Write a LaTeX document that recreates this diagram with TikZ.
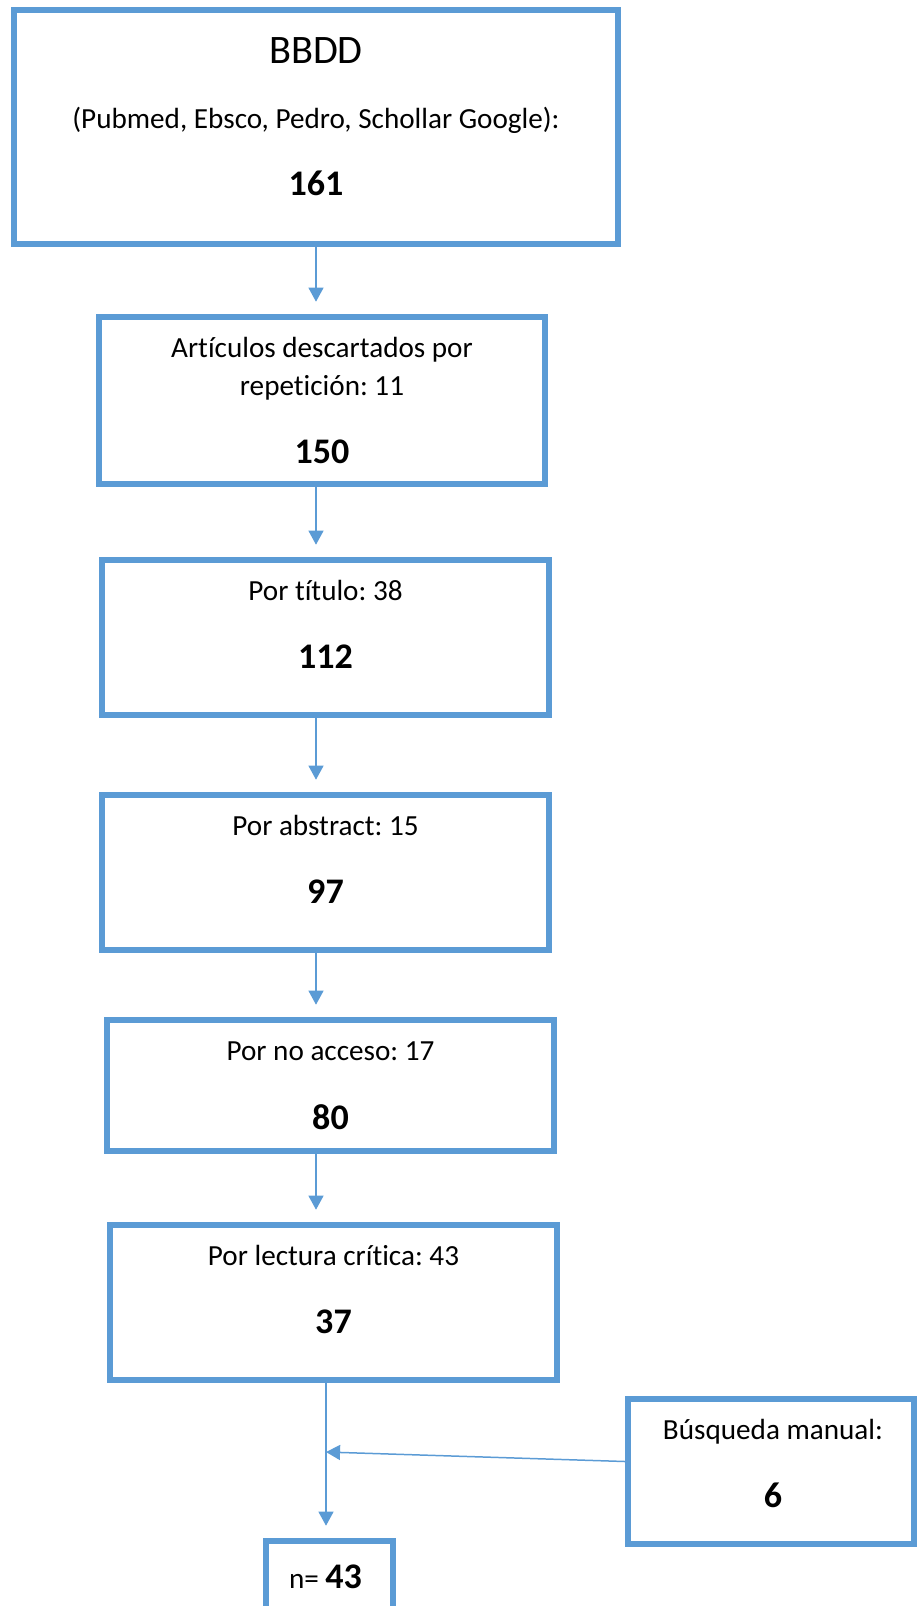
\documentclass[tikz,border=0pt]{standalone}
\usepackage{fontspec}
\setmainfont{Carlito}[Ligatures=NoCommon]
\usetikzlibrary{arrows.meta}

\definecolor{azul}{RGB}{91,155,213}
\frenchspacing

\begin{document}
\begin{tikzpicture}[
	x=0.02cm,
	y=-0.02cm,
	caja/.style 2 args={draw=azul, line width=3.4pt, minimum width=#1*0.02cm, minimum height=#2*0.02cm, inner sep=0pt},
	texto/.style={font=\fontsize{16.6}{20}\selectfont, anchor=base, inner sep=0pt},
	cifra/.style={font=\fontsize{20.5}{24}\selectfont\bfseries, anchor=base, inner sep=0pt},
	flecha/.style={draw=azul, line width=0.85pt, -{Triangle[length=8pt, width=8.5pt]}, shorten >=7pt}
]

\useasboundingbox (0,0) rectangle (917,1606);

% cajas
\node[caja={604}{234}] (b1) at (316,127) {};
\node[caja={446}{167}] (b2) at (322,400.5) {};
\node[caja={447}{155}] (b3) at (325.5,637.5) {};
\node[caja={447}{155}] (b4) at (325.5,872.5) {};
\node[caja={447}{131}] (b5) at (330.5,1085.5) {};
\node[caja={447}{155}] (b6) at (333.5,1302.5) {};
\node[caja={286}{145}] (bm) at (771,1471.5) {};
\node[caja={127}{79}] (fin) at (329.5,1580.5) {};

% textos
\node[texto, font=\fontsize{23}{27}\selectfont] (t1a) at (316,63) {BBDD};
\foreach \nombre/\x/\y/\linea in {
	t1b/316/128/{(Pubmed, Ebsco, Pedro, Schollar Google):},
	t2a/322/357/{Artículos descartados por},
	t2b/322/395/{repetición: 11},
	t3a/325.5/600/{Por título: 38},
	t4a/325.5/835/{Por abstract: 15},
	t5a/330.5/1060/{Por no acceso: 17},
	t6a/333.5/1265/{Por lectura crítica: 43},
	tma/773/1439/{Búsqueda manual:}} {
	\node[texto] (\nombre) at (\x,\y) {\linea};
}
\foreach \nombre/\x/\y/\num in {t1c/316/195/161, t2c/322/463/150, t3b/325.5/668/112,
	t4b/325.5/903/97, t5b/330.5/1129/80, t6b/333.5/1333/37, tmb/773/1507/6} {
	\node[cifra] (\nombre) at (\x,\y) {\num};
}
\node[texto] (tn) at (325.5,1588) {n= {\fontsize{20.5}{24}\bfseries\selectfont 43}};

% flechas
\foreach \a/\b in {b1/b2, b2/b3, b3/b4, b4/b5, b5/b6} {
	\draw[flecha] (\a.south -| b1.south) -- (\b.north -| b1.south);
}
\coordinate (junta) at (326,1452);
\draw[flecha] (b6.south -| junta) -- (fin.north -| junta);
\draw[flecha, shorten >=0pt] ([yshift=0.2cm]bm.west) -- (junta);

\end{tikzpicture}
\end{document}
